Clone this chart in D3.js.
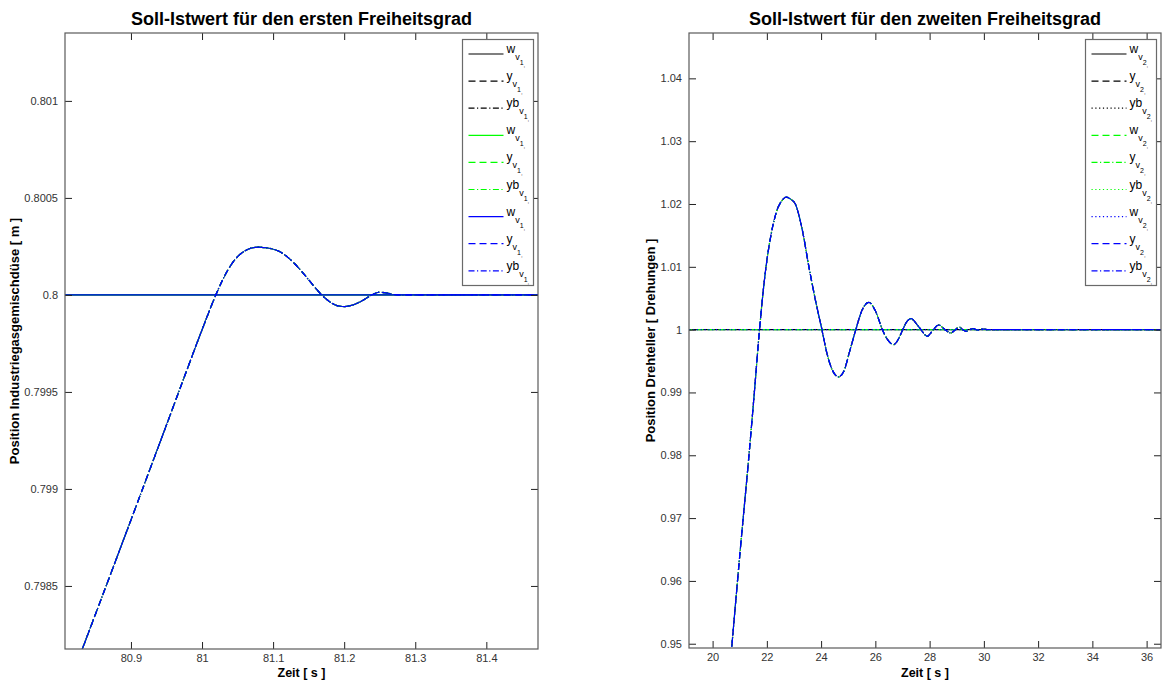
<!DOCTYPE html>
<html><head><meta charset="utf-8">
<script src="https://cdn.jsdelivr.net/npm/d3@7"></script>
<style>
body{margin:0;background:#fff}
text{font-family:"Liberation Sans",Arial,Helvetica,sans-serif}
</style>
</head><body>
<svg id="chart" width="1162" height="685"></svg>
<script>
// ---------------- DATA ----------------
const leftTitle = "Soll-Istwert für den ersten Freiheitsgrad";
const rightTitle = "Soll-Istwert für den zweiten Freiheitsgrad";
const leftYLabel = "Position Industriegasgemischdüse [ m ]";
const rightYLabel = "Position Drehteller [ Drehungen ]";
const xLabel = "Zeit [ s ]";

const leftXTicks = [80.9, 81, 81.1, 81.2, 81.3, 81.4];
const leftYTicks = [0.7985, 0.799, 0.7995, 0.8, 0.8005, 0.801];
const rightXTicks = [20, 22, 24, 26, 28, 30, 32, 34, 36];
const rightYTicks = [0.95, 0.96, 0.97, 0.98, 0.99, 1, 1.01, 1.02, 1.03, 1.04];

// setpoint w (constant)
const leftSetTime = [80.80, 81.48];
const leftSetValue = [0.8, 0.8];
const rightSetTime = [19.0, 36.6];
const rightSetValue = [1, 1];

// measured response y / yb (identical for all variants)
const leftRespTime  = [80.80, 80.83, 80.90, 80.95, 81.00, 81.01, 81.02, 81.03, 81.04, 81.05, 81.06, 81.07, 81.08, 81.09, 81.10, 81.11, 81.12, 81.13, 81.14, 81.15, 81.16, 81.17, 81.18, 81.19, 81.20, 81.21, 81.22, 81.23, 81.24, 81.25, 81.26, 81.275, 81.48];
const leftRespValue = [0.79787, 0.79816, 0.79884, 0.79933, 0.79982, 0.799915, 0.800005, 0.800085, 0.800150, 0.800197, 0.800226, 0.800242, 0.800246, 0.800243, 0.800236, 0.800222, 0.800196, 0.800162, 0.800122, 0.800078, 0.800034, 0.799994, 0.799964, 0.799945, 0.79994, 0.799946, 0.79996, 0.79998, 0.800002, 0.800014, 0.80001, 0.80000, 0.80000];

const rightRespTime  = [20.60, 20.71, 21.00, 21.33, 21.52, 21.73, 21.85, 22.00, 22.15, 22.35, 22.55, 22.71, 22.90, 23.05, 23.30, 23.55, 23.80, 24.03, 24.20, 24.40, 24.64, 24.85, 25.05, 25.28, 25.50, 25.76, 26.00, 26.26, 26.45, 26.67, 26.85, 27.01, 27.15, 27.32, 27.50, 27.68, 27.80, 27.92, 28.03, 28.14, 28.33, 28.57, 28.78, 28.95, 29.10, 29.22, 29.35, 29.48, 29.61, 29.72, 29.80, 29.88, 29.96, 30.17, 36.60];
const rightRespValue = [0.9443, 0.9497, 0.9640, 0.9795, 0.9890, 1.0000, 1.0055, 1.0110, 1.0150, 1.0187, 1.0205, 1.0211, 1.0207, 1.0200, 1.0160, 1.0100, 1.0045, 1.0000, 0.9965, 0.9937, 0.99248, 0.9935, 0.9965, 1.0000, 1.0030, 1.00434, 1.0030, 1.0000, 0.9984, 0.99762, 0.9985, 1.0000, 1.0012, 1.00175, 1.0010, 1.0000, 0.9993, 0.99894, 0.9994, 1.0000, 1.00074, 1.0000, 0.99947, 1.0000, 1.00042, 1.0000, 0.99973, 1.0000, 1.00016, 1.0000, 0.9999, 1.0000, 1.0001, 1.0000, 1.0000];

const seriesNames = ["w", "y", "yb"];

// ---------------- STYLES ----------------
const variantColors = ["#000000", "#00ff00", "#0000ff"];
const DASH = {solid: null, dashed: "7,4", dashdot: "6,2.5,1.2,2.5", dotted: "1.2,2.6"};
const leftStyles = [
  ["solid","dashed","dashdot"],
  ["solid","dashed","dashdot"],
  ["solid","dashed","dashdot"]
];
const rightStyles = [
  ["solid","dashed","dotted"],
  ["dashed","dashdot","dotted"],
  ["dotted","dashed","dashdot"]
];

const svg = d3.select("#chart");
svg.append("rect").attr("width",1162).attr("height",685).attr("fill","#fff");

const fmt = d => String(+(+d).toFixed(4));

function panel(cfg){
  const g = svg.append("g");
  const x = d3.scaleLinear().domain(cfg.xDomain).range([cfg.x0, cfg.x1]);
  const y = d3.scaleLinear().domain(cfg.yDomain).range([cfg.y1, cfg.y0]);
  const clipId = "clip" + cfg.id;
  svg.append("clipPath").attr("id", clipId).append("rect")
    .attr("x", cfg.x0).attr("y", cfg.y0).attr("width", cfg.x1-cfg.x0).attr("height", cfg.y1-cfg.y0);

  // lines
  const line = d3.line().x(d=>x(d[0])).y(d=>y(d[1])).curve(d3.curveMonotoneX);
  const plot = g.append("g").attr("clip-path", `url(#${clipId})`);
  const setData = cfg.setTime.map((t,i)=>[t, cfg.setValue[i]]);
  const respData = cfg.respTime.map((t,i)=>[t, cfg.respValue[i]]);
  variantColors.forEach((col, vi) => {
    seriesNames.forEach((nm, si) => {
      const data = si === 0 ? setData : respData;
      plot.append("path").datum(data)
        .attr("d", line).attr("fill","none")
        .attr("stroke", col).attr("stroke-width", 1.2)
        .attr("stroke-dasharray", DASH[cfg.styles[vi][si]]);
    });
  });

  // axes (inward ticks, mirrored)
  const tc = "#222";
  const bottom = g.append("g").attr("transform",`translate(0,${cfg.y1})`)
    .call(d3.axisBottom(x).tickValues(cfg.xTicks).tickFormat(fmt).tickSizeInner(-7).tickSizeOuter(0).tickPadding(5));
  const top = g.append("g").attr("transform",`translate(0,${cfg.y0})`)
    .call(d3.axisTop(x).tickValues(cfg.xTicks).tickFormat("").tickSizeInner(-7).tickSizeOuter(0));
  const left = g.append("g").attr("transform",`translate(${cfg.x0},0)`)
    .call(d3.axisLeft(y).tickValues(cfg.yTicks).tickFormat(fmt).tickSizeInner(-7).tickSizeOuter(0).tickPadding(7));
  const right = g.append("g").attr("transform",`translate(${cfg.x1},0)`)
    .call(d3.axisRight(y).tickValues(cfg.yTicks).tickFormat("").tickSizeInner(-7).tickSizeOuter(0));
  [bottom, top, left, right].forEach(a => {
    a.select(".domain").remove();
    a.selectAll("line").attr("stroke", tc);
    a.selectAll("text").attr("fill","#333").style("font-size","11px").style("font-family",'"Liberation Sans",Arial,sans-serif');
  });
  g.append("rect").attr("x",cfg.x0).attr("y",cfg.y0).attr("width",cfg.x1-cfg.x0).attr("height",cfg.y1-cfg.y0)
    .attr("fill","none").attr("stroke","#5a5a5a").attr("stroke-width",1.2);

  // title and labels
  const cx = (cfg.x0+cfg.x1)/2, cy = (cfg.y0+cfg.y1)/2;
  g.append("text").attr("x",cx).attr("y",25).attr("text-anchor","middle")
    .style("font-size","18px").style("font-weight","bold").text(cfg.title);
  g.append("text").attr("x",cx).attr("y",677).attr("text-anchor","middle")
    .style("font-size","12.5px").style("font-weight","bold").text(xLabel);
  g.append("text").attr("transform",`translate(${cfg.ylabX},${cy}) rotate(-90)`).attr("text-anchor","middle")
    .style("font-size","13px").style("font-weight","bold").text(cfg.yLabel);

  // legend
  const lg = g.append("g");
  lg.append("rect").attr("x",cfg.legX).attr("y",39.5).attr("width",71).attr("height",246)
    .attr("fill","#fff").attr("stroke","#6a6a6a").attr("stroke-width",1.2);
  let k = 0;
  variantColors.forEach((col, vi) => {
    seriesNames.forEach((nm, si) => {
      const yy = 54 + k*27.1;
      lg.append("line").attr("x1",cfg.legX+6).attr("x2",cfg.legX+41).attr("y1",yy).attr("y2",yy)
        .attr("stroke",col).attr("stroke-width",1.2).attr("stroke-dasharray", DASH[cfg.styles[vi][si]]);
      const t = lg.append("text").attr("x",cfg.legX+44).attr("y",yy-1).attr("fill","#000").style("font-size","12px");
      t.append("tspan").text(nm);
      t.append("tspan").attr("dy",7).style("font-size","9px").text("v");
      t.append("tspan").attr("dy",5).style("font-size","7px").text(cfg.dof);
      t.append("tspan").attr("dy",2).style("font-size","6px").text(",");
      k++;
    });
  });
}

panel({id:"L", x0:65, x1:538, y0:33, y1:649,
  xDomain:[80.8072, 81.4727], yDomain:[0.798175, 0.80135],
  xTicks:leftXTicks, yTicks:leftYTicks,
  setTime:leftSetTime, setValue:leftSetValue, respTime:leftRespTime, respValue:leftRespValue,
  styles:leftStyles, title:leftTitle, yLabel:leftYLabel, ylabX:19, legX:462.5, dof:"1"});

panel({id:"R", x0:689, x1:1161, y0:33, y1:648,
  xDomain:[19.13, 36.53], yDomain:[0.94932, 1.04722],
  xTicks:rightXTicks, yTicks:rightYTicks,
  setTime:rightSetTime, setValue:rightSetValue, respTime:rightRespTime, respValue:rightRespValue,
  styles:rightStyles, title:rightTitle, yLabel:rightYLabel, ylabX:655, legX:1085.5, dof:"2"});
</script>
</body></html>
